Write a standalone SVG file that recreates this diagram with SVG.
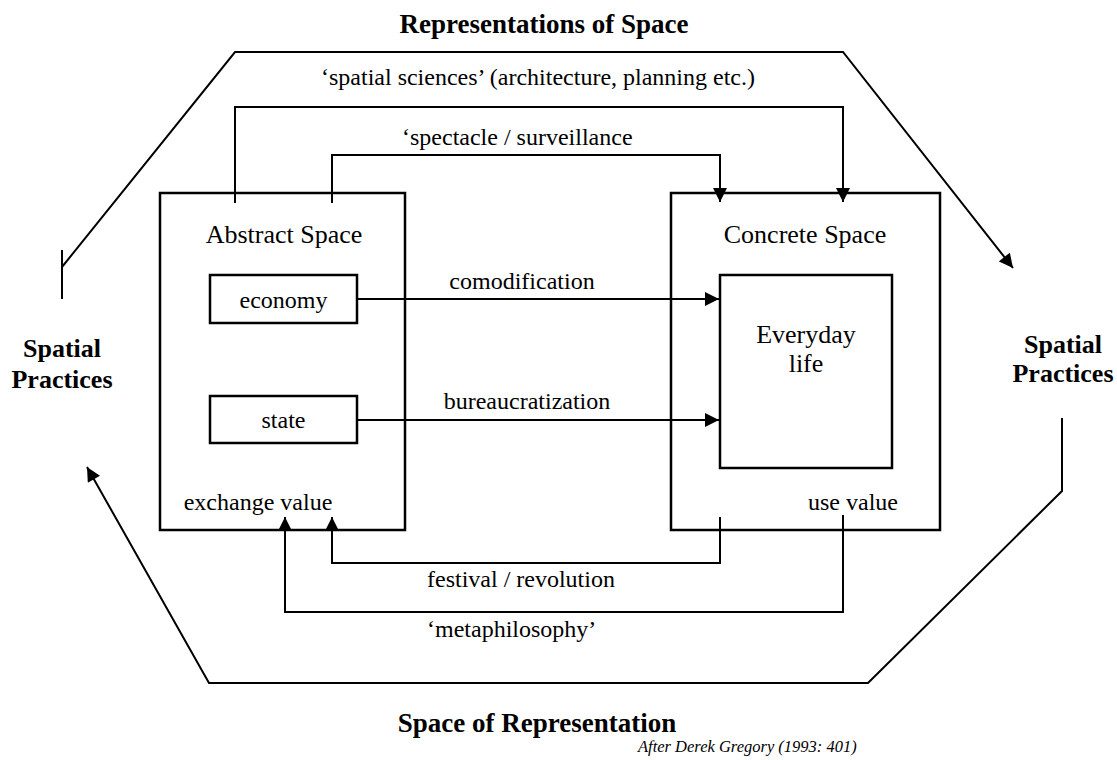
<svg xmlns="http://www.w3.org/2000/svg" width="1117" height="760" viewBox="0 0 1117 760">
<defs>
<marker id="ah" viewBox="0 0 10 10" refX="10" refY="5" markerWidth="15" markerHeight="14" markerUnits="userSpaceOnUse" orient="auto">
<path d="M0,0 L10,5 L0,10 z" fill="#000"/>
</marker>
</defs>
<style>
.t{font-family:"Liberation Serif","Times New Roman",serif;fill:#000}
.r{font-size:24px}
.h{font-size:26px}
.b{font-size:27px;font-weight:bold}
.sp{font-size:26px;font-weight:bold}
.i{font-size:16.5px;font-style:italic}
.box{fill:none;stroke:#000;stroke-width:2.5}
.ln{fill:none;stroke:#000;stroke-width:2}
</style>
<rect width="1117" height="760" fill="#fff"/>
<g id="outer" class="ln">
<path d="M62,250 L62,299"/>
<path d="M62,267 L235,52 L843,52 L1013,268" marker-end="url(#ah)"/>
<path d="M1062,418 L1062,491 L868,683 L209,683 L87,467" marker-end="url(#ah)"/>
</g>
<g id="title-top"><text class="t b" x="544" y="33" text-anchor="middle">Representations of Space</text></g>
<g id="title-bottom"><text class="t b" x="537" y="732" text-anchor="middle">Space of Representation</text></g>
<g id="credit"><text class="t i" x="638" y="752">After Derek Gregory (1993: 401)</text></g>
<g id="spatial-left"><text class="t sp" x="62" y="357" text-anchor="middle">Spatial</text><text class="t sp" x="62" y="388" text-anchor="middle">Practices</text></g>
<g id="spatial-right"><text class="t sp" x="1063" y="353" text-anchor="middle">Spatial</text><text class="t sp" x="1063" y="382" text-anchor="middle">Practices</text></g>
<g id="abstract-space">
<rect class="box" x="160" y="193" width="245" height="337"/>
<text class="t h" x="284" y="243" text-anchor="middle">Abstract Space</text>
<text class="t r" x="258" y="510" text-anchor="middle">exchange value</text>
</g>
<g id="economy"><rect class="box" x="210" y="275" width="147" height="48"/><text class="t r" x="283.5" y="308" text-anchor="middle">economy</text></g>
<g id="state"><rect class="box" x="210" y="396" width="147" height="47"/><text class="t r" x="283.5" y="428" text-anchor="middle">state</text></g>
<g id="concrete-space">
<rect class="box" x="671" y="193" width="269" height="337"/>
<text class="t h" x="805" y="243" text-anchor="middle">Concrete Space</text>
<text class="t r" x="853" y="510" text-anchor="middle">use value</text>
</g>
<g id="everyday-life"><rect class="box" x="720" y="275" width="172" height="193"/><text class="t h" x="806" y="343" text-anchor="middle">Everyday</text><text class="t h" x="806" y="372" text-anchor="middle">life</text></g>
<g id="connectors" class="ln">
<path d="M235,203 L235,107 L843,107 L843,202" marker-end="url(#ah)"/>
<path d="M332,203 L332,155 L720,155 L720,202" marker-end="url(#ah)"/>
<path d="M357,299 L719,299" marker-end="url(#ah)"/>
<path d="M357,420 L719,420" marker-end="url(#ah)"/>
<path d="M720,517 L720,563 L332,563 L332,517" marker-end="url(#ah)"/>
<path d="M843,515 L843,612 L285,612 L285,517" marker-end="url(#ah)"/>
</g>
<g id="connector-labels">
<text class="t r" x="538" y="85" text-anchor="middle">‘spatial sciences’ (architecture,  planning etc.)</text>
<text class="t r" x="402" y="145">‘spectacle / surveillance</text>
<text class="t r" x="522" y="289" text-anchor="middle">comodification</text>
<text class="t r" x="527" y="409" text-anchor="middle">bureaucratization</text>
<text class="t r" x="427" y="587">festival / revolution</text>
<text class="t r" x="427" y="637">‘metaphilosophy’</text>
</g>
</svg>
